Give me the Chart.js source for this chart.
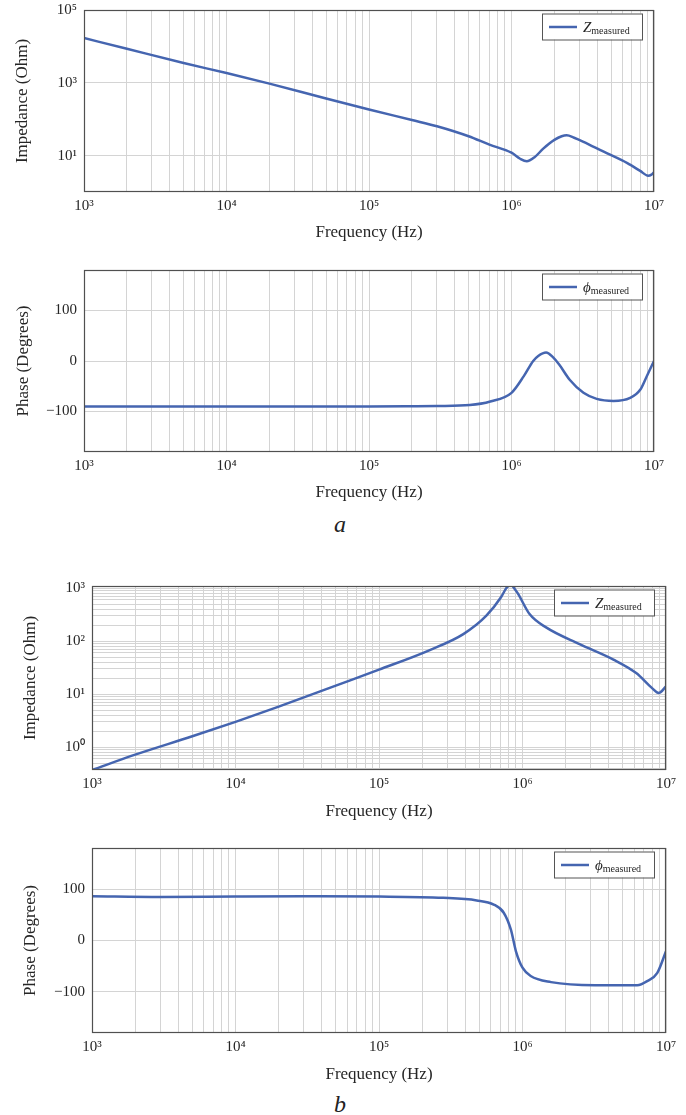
<!DOCTYPE html>
<html><head><meta charset="utf-8">
<script src="https://cdn.jsdelivr.net/npm/chart.js@4/dist/chart.umd.min.js"></script>
<style>
body{margin:0;background:#fff;width:686px;height:1115px;position:relative;overflow:hidden;font-family:'Liberation Serif',serif}
.box{position:absolute;left:0;width:686px;height:250px}
.lab{position:absolute;left:0;width:686px;text-align:center;font-style:italic;font-size:24px;line-height:24px;color:#222}
</style></head><body>
<div class="box" style="top:0"><canvas id="c1"></canvas></div>
<div class="box" style="top:260px"><canvas id="c2"></canvas></div>
<div class="lab" style="top:512px;left:-3px">a</div>
<div class="box" style="top:576px"><canvas id="c3"></canvas></div>
<div class="box" style="top:838px"><canvas id="c4"></canvas></div>
<div class="lab" style="top:1092px;left:-3px">b</div>
<script>
// ---- data ----
const freqZa  = [1e3,2e3,5e3,1e4,2e4,5e4,1e5,2e5,3e5,5e5,7e5,1e6,1.15e6,1.28e6,1.45e6,1.67e6,2.0e6,2.25e6,2.44e6,2.75e6,3.2e6,4.4e6,6.5e6,8e6,9.1e6,9.6e6,1e7];
const impA    = [17000,8600,3500,1850,950,370,185,95,64,34,20,12,8.2,7.0,9.0,15.5,27,34,36,31,24,13,6.2,3.8,2.8,3.0,3.5];
const freqPa  = [1e3,1e4,1e5,2e5,3e5,5.1e5,7.1e5,1e6,1.22e6,1.42e6,1.54e6,1.75e6,1.96e6,2.16e6,2.56e6,3.2e6,3.96e6,5.2e6,6.8e6,8e6,8.9e6,1e7];
const phaseA  = [-90,-90,-90,-89.5,-89,-87,-80,-63,-30,0,10,17,7,-7,-37,-63,-75,-79,-73,-57,-30,0];
const freqZb  = [1e3,2e3,5e3,1e4,2e4,5e4,1e5,2.26e5,3.87e5,5.6e5,7.1e5,7.7e5,8.3e5,8.8e5,9.3e5,1.12e6,1.46e6,2.5e6,4.3e6,6.2e6,8e6,8.9e6,1e7];
const impB    = [0.37,0.72,1.6,3.0,5.8,14.5,29,68,136,303,680,1000,1170,980,790,325,182,88,45,25,13,10.5,14];
const freqPb  = [1e3,3e3,1e4,3e4,1e5,2.8e5,4.8e5,6.3e5,7.4e5,8.3e5,9.0e5,1.0e6,1.14e6,1.58e6,3.2e6,6.3e6,7.4e6,8.7e6,1e7];
const phaseB  = [86,84.5,85.5,86,85.5,83,78,70,54,21,-21,-53,-69,-81,-87,-87,-79,-63,-21];
const powLabels = {'-1':'10⁻¹','0':'10⁰','1':'10¹','2':'10²','3':'10³','4':'10⁴','5':'10⁵','6':'10⁶','7':'10⁷'};
const phaseTicks = [-100, 0, 100];
const seriesNames = ['Z_measured','ϕ_measured'];

// ---- helpers ----
function logGrid(lo, hi){ const out=[]; for(let e=lo;e<hi;e++){ for(let m=1;m<10;m++) out.push(m*Math.pow(10,e)); } out.push(Math.pow(10,hi)); return out; }
function powLabel(v){ const l=Math.log10(v); const r=Math.round(l); return Math.abs(l-r)<1e-9 ? powLabels[String(r)] : ''; }
const FONT='Liberation Serif';
const TXT='#262626', GRID='#d4d4d4', BLUE='#4565b0';

const framePlugin = {
  id:'frame',
  afterDatasetsDraw(chart){
    const {ctx, chartArea:a} = chart;
    ctx.save();
    ctx.strokeStyle='#505050'; ctx.lineWidth=1.2;
    ctx.strokeRect(a.left+0.5, a.top+0.5, a.right-a.left-1, a.bottom-a.top-1);
    // legend
    const name = chart.data.datasets[0].label.split('_');
    const w=100, h=26, x=a.right-12-w, y=a.top+3.5;
    ctx.fillStyle='#fff'; ctx.fillRect(x,y,w,h);
    ctx.strokeStyle='#555'; ctx.lineWidth=1; ctx.strokeRect(x+0.5,y+0.5,w,h);
    ctx.strokeStyle=BLUE; ctx.lineWidth=2.5;
    ctx.beginPath(); ctx.moveTo(x+7,y+h/2+0.5); ctx.lineTo(x+35,y+h/2+0.5); ctx.stroke();
    ctx.fillStyle=TXT; ctx.textBaseline='alphabetic'; ctx.textAlign='left';
    ctx.font='italic 15px "'+FONT+'"';
    const bx=x+41, by=y+h/2+5;
    ctx.fillText(name[0], bx, by);
    const w0=ctx.measureText(name[0]).width;
    ctx.font='10px "'+FONT+'"';
    ctx.fillText(name[1], bx+w0, by+2);
    ctx.restore();
  }
};

function makeChart(id, xs, ys, o){
  const data = xs.map((x,i)=>({x:x, y:ys[i]}));
  const H=250;
  return new Chart(document.getElementById(id), {
    type:'line',
    data:{datasets:[{label:o.name, data:data, borderColor:BLUE, borderWidth:2.5, pointRadius:0, fill:false, cubicInterpolationMode:'monotone'}]},
    plugins:[framePlugin],
    options:{
      responsive:true, maintainAspectRatio:false, animation:false,
      layout:{padding:{left:0, right:686-o.right, top:o.top, bottom:0}},
      plugins:{legend:{display:false}, tooltip:{enabled:false}},
      scales:{
        x:{type:'logarithmic', min:1e3, max:1e7,
           afterBuildTicks:s=>{ s.ticks = logGrid(3,7).map(v=>({value:v})); },
           afterFit:s=>{ s.height = H-o.bottom; s.paddingLeft=0; s.paddingRight=0; },
           grid:{color:GRID, lineWidth:1, drawTicks:false},
           border:{display:false},
           ticks:{autoSkip:false, maxRotation:0, padding:5, color:TXT, font:{family:FONT,size:15}, callback:v=>powLabel(v)},
           title:{display:true, text:'Frequency (Hz)', color:TXT, font:{family:FONT,size:17}, padding:{top:0,bottom:o.xtPad}}
        },
        y:{type:o.ytype, min:o.ymin, max:o.ymax,
           afterBuildTicks:s=>{ s.ticks = o.ygrid.map(v=>({value:v})); },
           afterFit:s=>{ s.width = o.left; s.paddingTop=0; s.paddingBottom=0; },
           grid:{color:GRID, lineWidth:1, drawTicks:false},
           border:{display:false},
           ticks:{autoSkip:false, padding:7, color:TXT, font:{family:FONT,size:15},
                  callback:v=> o.ytype==='logarithmic' ? powLabel(v) : (v<0 ? '−'+Math.abs(v) : String(v))},
           title:{display:true, text:o.ytitle, color:TXT, font:{family:FONT,size:17}, padding:{top:o.ytPad,bottom:0}}
        }
      }
    }
  });
}

makeChart('c1', freqZa, impA, {name:seriesNames[0], ytype:'logarithmic', ymin:1, ymax:1e5, ygrid:[10,1000,100000],
  ytitle:'Impedance (Ohm)', left:84, right:654, top:10, bottom:192, xtPad:7, ytPad:12});
makeChart('c2', freqPa, phaseA, {name:seriesNames[1], ytype:'linear', ymin:-180, ymax:180, ygrid:phaseTicks,
  ytitle:'Phase (Degrees)', left:84, right:654, top:10, bottom:192, xtPad:7, ytPad:13});
makeChart('c3', freqZb, impB, {name:seriesNames[0], ytype:'logarithmic', ymin:0.37, ymax:1100,
  ygrid:[0.4,0.5,0.6,0.7,0.8,0.9].concat(logGrid(0,3)),
  ytitle:'Impedance (Ohm)', left:92, right:666, top:10, bottom:194, xtPad:4, ytPad:20});
makeChart('c4', freqPb, phaseB, {name:seriesNames[1], ytype:'linear', ymin:-180, ymax:180, ygrid:phaseTicks,
  ytitle:'Phase (Degrees)', left:92, right:666, top:10, bottom:195, xtPad:3, ytPad:20});
</script>
</body></html>
